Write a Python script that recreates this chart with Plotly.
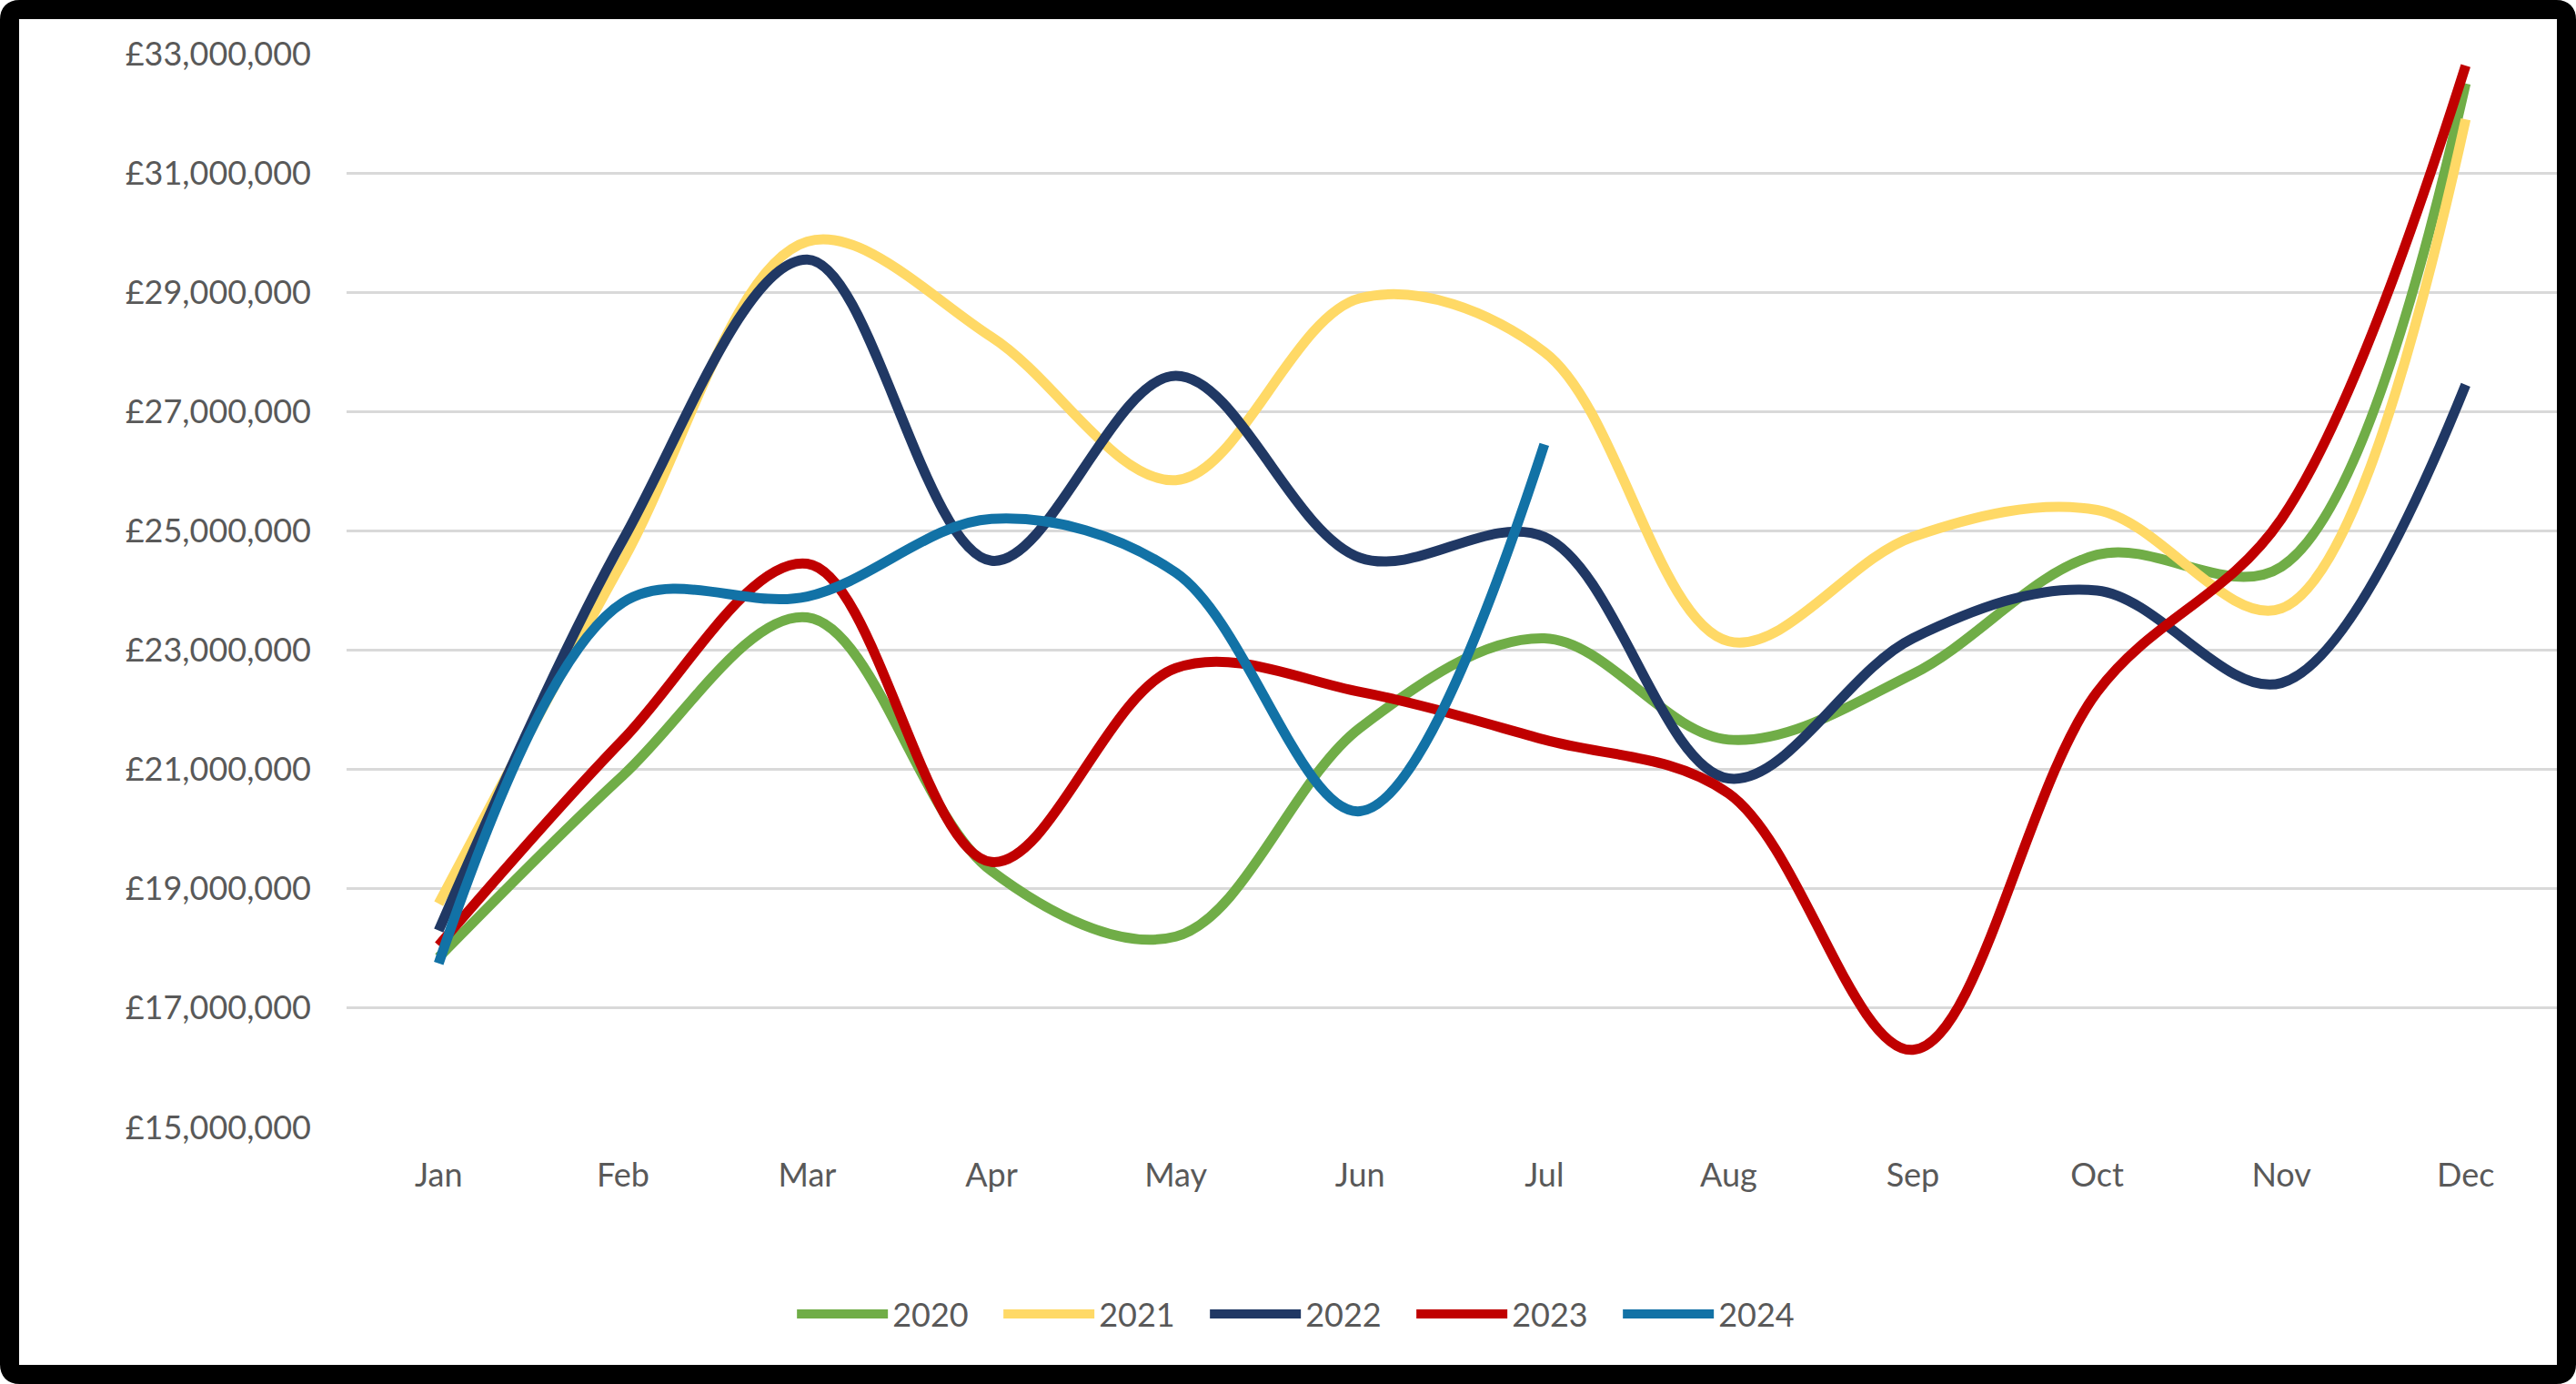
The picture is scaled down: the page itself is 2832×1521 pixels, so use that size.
import plotly.graph_objects as go

months = ["Jan", "Feb", "Mar", "Apr", "May", "Jun", "Jul", "Aug", "Sep", "Oct", "Nov", "Dec"]

sales_2020 = [17.85e6, 20.9e6, 23.55e6, 19.3e6, 18.2e6, 21.7e6, 23.2e6, 21.5e6, 22.6e6, 24.6e6, 24.4e6, 32.5e6]
sales_2021 = [18.75e6, 24.5e6, 29.85e6, 28.25e6, 25.85e6, 28.9e6, 28.0e6, 23.15e6, 24.9e6, 25.35e6, 23.7e6, 31.9e6]
sales_2022 = [18.3e6, 24.85e6, 29.55e6, 24.5e6, 27.6e6, 24.55e6, 24.9e6, 20.85e6, 23.2e6, 24.0e6, 22.45e6, 27.45e6]
sales_2023 = [18.05e6, 21.5e6, 24.45e6, 19.45e6, 22.7e6, 22.3e6, 21.5e6, 20.6e6, 16.3e6, 22.3e6, 25.2e6, 32.8e6]
sales_2024 = [17.75e6, 23.8e6, 23.9e6, 25.2e6, 24.3e6, 20.3e6, 26.45e6]

series = [
    ("2020", sales_2020, "#70AD47"),
    ("2021", sales_2021, "#FFD966"),
    ("2022", sales_2022, "#203864"),
    ("2023", sales_2023, "#C00000"),
    ("2024", sales_2024, "#1272A6"),
]

W, H = 2832, 1521
ML, MR, MT, MB = 381, 20, 59, 282
PW, PH = W - ML - MR, H - MT - MB
FONT = "Lato"
FS = 36
TXT = "#595959"

fig = go.Figure()
for name, vals, color in series:
    fig.add_trace(go.Scatter(
        x=months[:len(vals)], y=vals, name=name, mode="lines",
        line=dict(color=color, width=11, shape="spline", smoothing=1.0),
    ))


def px_x(p):
    return (p - ML) / PW


def px_y(p):
    return (H - MB - p) / PH


# rounded black frame around the whole chart
bw = 21
h = bw / 2
r = 11
x0, x1, y0, y1 = h, W - h, h, H - h
path = (
    f"M {px_x(x0 + r)},{px_y(y0)} L {px_x(x1 - r)},{px_y(y0)} "
    f"Q {px_x(x1)},{px_y(y0)} {px_x(x1)},{px_y(y0 + r)} "
    f"L {px_x(x1)},{px_y(y1 - r)} Q {px_x(x1)},{px_y(y1)} {px_x(x1 - r)},{px_y(y1)} "
    f"L {px_x(x0 + r)},{px_y(y1)} Q {px_x(x0)},{px_y(y1)} {px_x(x0)},{px_y(y1 - r)} "
    f"L {px_x(x0)},{px_y(y0 + r)} Q {px_x(x0)},{px_y(y0)} {px_x(x0 + r)},{px_y(y0)} Z"
)
fig.add_shape(type="path", path=path, xref="paper", yref="paper",
              line=dict(color="black", width=bw), fillcolor="rgba(0,0,0,0)", layer="above")

fig.update_layout(
    width=W, height=H,
    margin=dict(l=ML, r=MR, t=MT, b=MB),
    paper_bgcolor="white", plot_bgcolor="white",
    font=dict(family=FONT, size=FS, color=TXT),
    showlegend=True,
    legend=dict(
        orientation="h", xref="container", yref="container",
        x=0.508, xanchor="center", y=0.0506, yanchor="middle",
        font=dict(family=FONT, size=FS, color=TXT),
        itemwidth=100, entrywidth=112, entrywidthmode="pixels", tracegroupgap=0,
        bgcolor="rgba(0,0,0,0)",
    ),
    xaxis=dict(
        type="category", range=[-0.5, 11.5], showgrid=False, zeroline=False,
        showline=False, ticks="", ticklabelstandoff=28,
        tickfont=dict(family=FONT, size=FS, color=TXT),
    ),
    yaxis=dict(
        range=[15e6, 33e6], tick0=15e6, dtick=2e6, tickprefix="£", tickformat=",",
        showgrid=True, gridcolor="#D9D9D9", gridwidth=2.5, zeroline=False,
        showline=False, ticks="", ticklabelstandoff=38,
        tickfont=dict(family=FONT, size=FS, color=TXT),
    ),
)

fig.write_html("out.html", config={"displayModeBar": False},
               post_script="document.body.style.margin='0px';")
